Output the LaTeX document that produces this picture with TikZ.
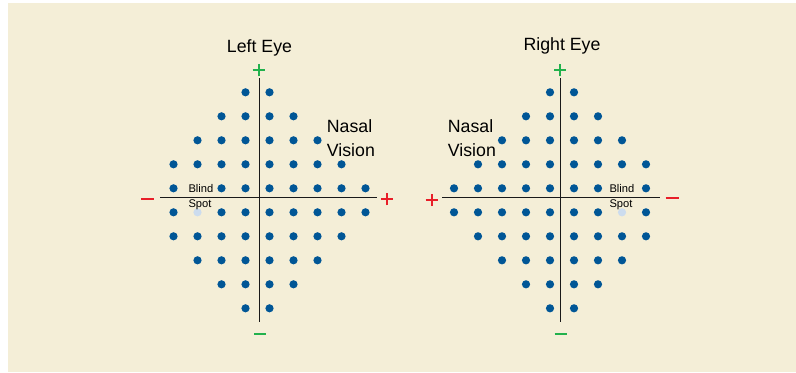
\documentclass[tikz,border=0pt]{standalone}
\usepackage{fontspec}
\setmainfont{Liberation Sans}
\definecolor{bgc}{RGB}{244,238,215}
\definecolor{dotc}{RGB}{0,86,150}
\definecolor{lightdot}{RGB}{204,220,238}
\definecolor{grn}{RGB}{34,177,76}
\definecolor{rd}{RGB}{232,30,40}
\tikzset{
  dotn/.style={circle,fill=dotc,inner sep=0pt,minimum size=8.2bp},
  blindn/.style={circle,fill=lightdot,inner sep=0pt,minimum size=8.2bp},
  axisl/.style={line width=1.1bp,black!90},
  signl/.style={line width=2bp},
  title/.style={font=\fontsize{17.8}{21}\selectfont,anchor=base,inner sep=0pt},
  nasal/.style={font=\fontsize{17.8}{24}\selectfont,anchor=base west,inner sep=0pt,align=left},
  blindt/.style={font=\fontsize{11.2}{15}\selectfont,anchor=base west,inner sep=0pt,align=left},
}
\begin{document}
\begin{tikzpicture}[x=1bp,y=-1bp]
\useasboundingbox (0,0) rectangle (796,372);
\fill[bgc] (8,3) rectangle (796,372);
% ---------- Left eye ----------
\foreach \r/\a/\b in {0/3/4,1/2/5,2/1/6,3/0/7,4/0/8,5/0/8,6/0/7,7/1/6,8/2/5,9/3/4}{
  \foreach \c in {\a,...,\b}{
    \pgfmathtruncatemacro{\skip}{(\r==4 && \c==1) || (\r==5 && \c==1) ? 1 : 0}
    \ifnum\skip=0
      \node[dotn] (L-\r-\c) at ({173.5+24*\c},{92.3+24*\r}) {};
    \fi
  }
}
\node[blindn] (Lblind) at (197.5,212.3) {};
\coordinate (Ltop) at (259.3,78.3);
\coordinate (Lbot) at (259.3,321.7);
\coordinate (Lleft) at (160,197.7);
\coordinate (Lright) at (377.3,197.7);
\draw[axisl] (Ltop) -- (Lbot);
\draw[axisl] (Lleft) -- (Lright);
\coordinate (Lplus) at (258.7,70.3);
\draw[signl,grn] ([xshift=-6bp]Lplus) -- ([xshift=6bp]Lplus) ([yshift=-6bp]Lplus) -- ([yshift=6bp]Lplus);
\coordinate (Lminus) at (260,334.3);
\draw[signl,grn,line width=1.8bp] ([xshift=-6bp]Lminus) -- ([xshift=6bp]Lminus);
\coordinate (Lmleft) at (147.5,198.7);
\draw[signl,rd] ([xshift=-6.5bp]Lmleft) -- ([xshift=6.5bp]Lmleft);
\coordinate (Lpright) at (387.3,199.3);
\draw[signl,rd] ([xshift=-6bp]Lpright) -- ([xshift=6bp]Lpright) ([yshift=-6bp]Lpright) -- ([yshift=6bp]Lpright);
\node[title] (Ltitle) at (259.5,52) {Left Eye};
\node[nasal] (Lnasal) at (326.7,156) {Nasal\\Vision};
\node[blindt] (Lblindt) at (188.3,207.3) {Blind\\Spot};
% ---------- Right eye ----------
\foreach \r/\a/\b in {0/4/5,1/3/6,2/2/7,3/1/8,4/0/8,5/0/8,6/1/8,7/2/7,8/3/6,9/4/5}{
  \foreach \c in {\a,...,\b}{
    \pgfmathtruncatemacro{\skip}{(\r==4 && \c==7) || (\r==5 && \c==7) ? 1 : 0}
    \ifnum\skip=0
      \node[dotn] (R-\r-\c) at ({454+24*\c},{92.3+24*\r}) {};
    \fi
  }
}
\node[blindn] (Rblind) at (622,212.3) {};
\coordinate (Rtop) at (560.7,78.3);
\coordinate (Rbot) at (560.7,321.7);
\coordinate (Rleft) at (442,197.7);
\coordinate (Rright) at (660,197.7);
\draw[axisl] (Rtop) -- (Rbot);
\draw[axisl] (Rleft) -- (Rright);
\coordinate (Rplus) at (560,70.3);
\draw[signl,grn] ([xshift=-6bp]Rplus) -- ([xshift=6bp]Rplus) ([yshift=-6bp]Rplus) -- ([yshift=6bp]Rplus);
\coordinate (Rminus) at (560.5,334.3);
\draw[signl,grn,line width=1.8bp] ([xshift=-6bp]Rminus) -- ([xshift=6bp]Rminus);
\coordinate (Rpleft) at (431.7,200);
\draw[signl,rd] ([xshift=-6bp]Rpleft) -- ([xshift=6bp]Rpleft) ([yshift=-6bp]Rpleft) -- ([yshift=6bp]Rpleft);
\coordinate (Rmright) at (672,197.5);
\draw[signl,rd] ([xshift=-6.5bp]Rmright) -- ([xshift=6.5bp]Rmright);
\node[title] (Rtitle) at (562,50.7) {Right Eye};
\node[nasal] (Rnasal) at (447.7,156) {Nasal\\Vision};
\node[blindt] (Rblindt) at (609.3,207.3) {Blind\\Spot};
\end{tikzpicture}
\end{document}
